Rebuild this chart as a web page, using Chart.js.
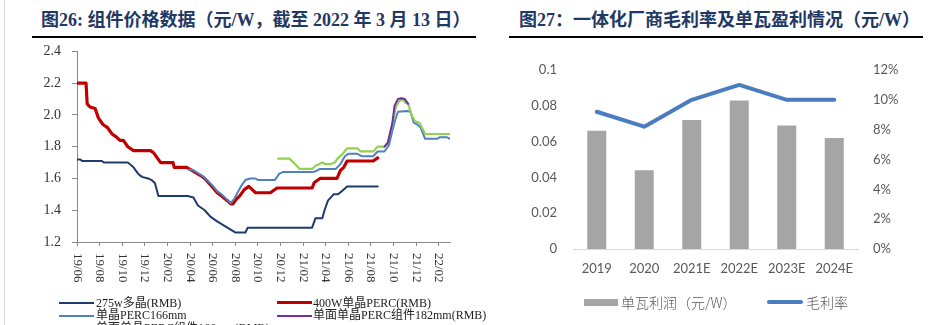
<!DOCTYPE html>
<html>
<head>
<meta charset="utf-8">
<script src="https://cdn.jsdelivr.net/npm/chart.js@4/dist/chart.umd.min.js"></script>
<style>
  html, body { margin: 0; padding: 0; background: #fff; }
  #wrap { position: relative; width: 933px; height: 325px; overflow: hidden; background: #fff; }
  .edge { position: absolute; left: 4px; top: 0; width: 1px; height: 325px; background: #d4d4d4; }
  .title { position: absolute; top: 9px; white-space: nowrap; font-weight: bold; color: #1F3864;
           font-family: "Liberation Serif", "Noto Sans CJK SC", serif; font-size: 18px; line-height: 22px; }
  .rule { position: absolute; top: 36px; height: 2px; background: #000; }
  canvas { position: absolute; }
  .lg { position: absolute; white-space: nowrap; font-family: "Liberation Serif", "Noto Sans CJK SC", serif;
        font-size: 12px; color: #222; line-height: 14px; }
  .sw { position: absolute; }
  .rlg { position: absolute; white-space: nowrap; font-family: "Noto Sans CJK SC", sans-serif; font-weight: 300;
         font-size: 14px; color: #595959; line-height: 18px; }
</style>
</head>
<body>
<div id="wrap">
  <div class="edge"></div>
  <div class="title" style="left:41px;">图26: 组件价格数据（元/W，截至 2022 年 3 月 13 日）</div>
  <div class="rule" style="left:32px; width:444px;"></div>
  <div class="title" style="left:519px;">图27：一体化厂商毛利率及单瓦盈利情况（元/W）</div>
  <div class="rule" style="left:509px; width:414px;"></div>

  <canvas id="priceChart" width="470" height="270" style="left:0; top:32px;"></canvas>
  <canvas id="marginChart" width="453" height="250" style="left:480px; top:40px;"></canvas>

  <!-- legend, module prices -->
  <div class="sw" style="left:59px; top:302px; width:35px; height:2px; background:#1F3A6E;"></div>
  <div class="lg" style="left:96px; top:296px;">275w多晶(RMB)</div>
  <div class="sw" style="left:277px; top:301px; width:35px; height:3px; background:#C00000;"></div>
  <div class="lg" style="left:313px; top:296px;">400W单晶PERC(RMB)</div>
  <div class="sw" style="left:59px; top:315px; width:35px; height:2px; background:#4F81BD;"></div>
  <div class="lg" style="left:96px; top:308px;">单晶PERC166mm</div>
  <div class="sw" style="left:277px; top:315px; width:35px; height:2px; background:#7030A0;"></div>
  <div class="lg" style="left:313px; top:308px;">单面单晶PERC组件182mm(RMB)</div>
  <div class="sw" style="left:59px; top:329px; width:35px; height:2px; background:#92D050;"></div>
  <div class="lg" style="left:96px; top:321px;">单面单晶PERC组件166mm(RMB)</div>

  <!-- legend, margin chart -->
  <div class="sw" style="left:584px; top:299px; width:34px; height:7px; background:#A5A5A5;"></div>
  <div class="rlg" style="left:621px; top:293px;">单瓦利润（元/W）</div>
  <div class="sw" style="left:767px; top:300px; width:36px; height:4px; border-radius:2px; background:#4A7CC0;"></div>
  <div class="rlg" style="left:806px; top:293px;">毛利率</div>
</div>

<script>
// ---- Module price data (x = months since 2019/06, y = 元/W) ----
const xTickLabels = ['19/06','19/08','19/10','19/12','20/02','20/04','20/06','20/08','20/10',
                     '20/12','21/02','21/04','21/06','21/08','21/10','21/12','22/02'];

const polyX = [0, 0.3, 0.45, 2.2, 2.4, 4.5, 5.0, 5.4, 5.75, 6.3, 6.6, 6.9, 7.2, 9.8, 10.3, 10.7, 11.3,
               11.8, 12.4, 13.3, 14.0, 14.9, 15.1, 20.8, 21.1, 21.7, 21.9, 22.2, 22.7, 23.1, 23.5, 23.9, 26.6];
const polyY = [1.72, 1.72, 1.71, 1.71, 1.70, 1.70, 1.67, 1.63, 1.61, 1.60, 1.59, 1.57, 1.49, 1.49, 1.48, 1.43, 1.40,
               1.36, 1.33, 1.29, 1.26, 1.26, 1.29, 1.29, 1.35, 1.35, 1.40, 1.46, 1.50, 1.50, 1.525, 1.55, 1.55];

const perc400X = [0, 0.8, 0.9, 1.15, 1.6, 1.9, 2.3, 2.7, 3.1, 3.5, 3.8, 4.1, 4.5, 5.0, 6.5, 6.8, 7.4, 8.5, 8.6,
                  9.7, 10.2, 10.9, 11.3, 12.0, 12.4, 12.8, 13.3, 13.6, 13.8, 14.1, 14.4, 14.8, 15.2, 15.5, 15.8,
                  17.1, 17.7, 20.8, 21.0, 21.5, 23.0, 23.3, 23.6, 23.9, 26.2, 26.6];
const perc400Y = [2.20, 2.20, 2.07, 2.05, 2.04, 1.98, 1.94, 1.92, 1.88, 1.86, 1.84, 1.84, 1.80, 1.775, 1.775, 1.76,
                  1.70, 1.70, 1.67, 1.67, 1.65, 1.62, 1.60, 1.545, 1.51, 1.49, 1.46, 1.44, 1.44, 1.47, 1.49, 1.53,
                  1.55, 1.53, 1.51, 1.51, 1.54, 1.54, 1.575, 1.60, 1.60, 1.65, 1.67, 1.71, 1.71, 1.73];

const perc166X = [9.9, 10.2, 10.9, 11.3, 12.0, 12.4, 12.8, 13.3, 13.6, 13.9, 14.2, 14.5, 14.9, 15.3, 15.8, 16.0,
                  17.5, 17.9, 18.2, 20.8, 21.1, 21.5, 22.9, 23.3, 23.7, 24.0, 24.8, 25.2, 26.2, 26.6, 27.2,
                  27.6, 27.9, 28.2, 28.4, 29.2, 29.5, 29.8, 30.1, 30.4, 30.8, 31.9, 32.1, 32.7, 33.0];
const perc166Y = [1.655, 1.655, 1.625, 1.605, 1.555, 1.52, 1.50, 1.465, 1.445, 1.47, 1.51, 1.55, 1.59, 1.60, 1.60, 1.59,
                  1.59, 1.63, 1.64, 1.64, 1.645, 1.66, 1.66, 1.69, 1.74, 1.755, 1.755, 1.74, 1.74, 1.77, 1.77,
                  1.81, 1.90, 1.98, 2.02, 2.025, 2.02, 1.95, 1.94, 1.92, 1.85, 1.85, 1.86, 1.86, 1.85];

const mono182X = [27.2, 27.5, 27.9, 28.1, 28.4, 28.7, 29.0, 29.3];
const mono182Y = [1.80, 1.825, 1.95, 2.06, 2.10, 2.105, 2.10, 2.07];

const mono166X = [17.8, 18.8, 19.3, 19.7, 20.8, 21.1, 21.4, 21.7, 22.0, 22.4, 22.8, 23.1, 23.5, 23.9, 24.8, 25.1,
                  26.2, 26.6, 27.2, 27.5, 27.9, 28.2, 28.5, 28.8, 29.0, 29.3, 29.6, 29.9, 30.3, 30.8, 33.0];
const mono166Y = [1.725, 1.725, 1.69, 1.66, 1.66, 1.68, 1.69, 1.70, 1.69, 1.69, 1.70, 1.73, 1.755, 1.79, 1.79, 1.77,
                  1.77, 1.80, 1.80, 1.825, 1.94, 2.05, 2.085, 2.10, 2.08, 2.07, 2.00, 1.96, 1.95, 1.88, 1.88];

// ---- Margin chart data ----
const years = ['2019', '2020', '2021E', '2022E', '2023E', '2024E'];
const profitPerWatt = [0.066, 0.044, 0.072, 0.083, 0.069, 0.062];
const grossMargin = [9.2, 8.2, 10.0, 11.0, 10.0, 10.0];

const pts = (xs, ys) => xs.map((x, i) => ({ x: x, y: ys[i] }));
const lineSet = (label, xs, ys, color, width) => ({
  label: label, data: pts(xs, ys), borderColor: color, backgroundColor: color,
  borderWidth: width, pointRadius: 0, tension: 0, fill: false,
  borderJoinStyle: 'round', borderCapStyle: 'round'
});

// month-axis labels, drawn reading top-to-bottom under each tick
const verticalMonthLabels = {
  id: 'verticalMonthLabels',
  afterDraw(chart) {
    const sc = chart.scales.x;
    const ctx = chart.ctx;
    ctx.save();
    ctx.font = '13px "Liberation Serif", serif';
    ctx.fillStyle = '#333';
    ctx.textAlign = 'left';
    ctx.textBaseline = 'middle';
    sc.ticks.forEach((t, i) => {
      const px = sc.getPixelForValue(t.value);
      ctx.save();
      ctx.translate(px, sc.top + 11);
      ctx.rotate(Math.PI / 2);
      ctx.fillText(xTickLabels[i] || '', 0, 0);
      ctx.restore();
    });
    ctx.restore();
  }
};

new Chart(document.getElementById('priceChart'), {
  type: 'line',
  data: {
    datasets: [
      lineSet('275w多晶(RMB)', polyX, polyY, '#1F3A6E', 2),
      lineSet('单面单晶PERC组件182mm(RMB)', mono182X, mono182Y, '#7030A0', 2),
      lineSet('单面单晶PERC组件166mm(RMB)', mono166X, mono166Y, '#92D050', 2.2),
      lineSet('单晶PERC166mm', perc166X, perc166Y, '#4F81BD', 2),
      lineSet('400W单晶PERC(RMB)', perc400X, perc400Y, '#C00000', 3.2)
    ]
  },
  options: {
    responsive: false,
    animation: false,
    events: [],
    layout: { padding: { top: 2, right: 20, left: 0, bottom: 0 } },
    plugins: { legend: { display: false }, tooltip: { enabled: false } },
    scales: {
      x: {
        type: 'linear', min: 0, max: 33.0,
        afterFit: s => { s.height = 60; },
        afterBuildTicks: s => { s.ticks = xTickLabels.map((_, i) => ({ value: i * 2 })); },
        ticks: { display: false },
        grid: { display: true, drawOnChartArea: false, drawTicks: true, tickLength: 4, color: '#888' },
        border: { display: true, color: '#888', width: 1 }
      },
      y: {
        min: 1.2, max: 2.4,
        afterFit: s => { s.width = 77; },
        ticks: { stepSize: 0.2, padding: 11, color: '#333',
                 font: { family: '"Liberation Serif", serif', size: 14 },
                 callback: v => Number(v).toFixed(1) },
        grid: { display: true, drawOnChartArea: false, drawTicks: true, tickLength: 5, color: '#888' },
        border: { display: true, color: '#888', width: 1 }
      }
    }
  },
  plugins: [verticalMonthLabels]
});

new Chart(document.getElementById('marginChart'), {
  type: 'bar',
  data: {
    labels: years,
    datasets: [
      { type: 'line', label: '毛利率', data: grossMargin, yAxisID: 'y1', order: 0,
        borderColor: '#4A7CC0', backgroundColor: '#4A7CC0', borderWidth: 4, pointRadius: 0,
        tension: 0, borderJoinStyle: 'round', borderCapStyle: 'round' },
      { type: 'bar', label: '单瓦利润（元/W）', data: profitPerWatt, yAxisID: 'y', order: 1,
        backgroundColor: '#A5A5A5', categoryPercentage: 1, barPercentage: 0.4 }
    ]
  },
  options: {
    responsive: false,
    animation: false,
    events: [],
    layout: { padding: { top: 30, right: 25, left: 0, bottom: 0 } },
    plugins: { legend: { display: false }, tooltip: { enabled: false } },
    scales: {
      x: {
        afterFit: s => { s.height = 41; },
        ticks: { padding: 12, color: '#595959', font: { family: 'Lato, sans-serif', size: 13 } },
        grid: { display: false, drawTicks: false },
        border: { display: true, color: '#D9D9D9', width: 1 }
      },
      y: {
        position: 'left', min: 0, max: 0.1,
        afterFit: s => { s.width = 93; },
        ticks: { stepSize: 0.02, padding: 16, color: '#595959', font: { family: 'Lato, sans-serif', size: 13 },
                 callback: v => String(Math.round(v * 100) / 100) },
        grid: { display: false, drawTicks: false },
        border: { display: false }
      },
      y1: {
        position: 'right', min: 0, max: 12,
        afterFit: s => { s.width = 50; },
        ticks: { stepSize: 2, padding: 15, color: '#595959', font: { family: 'Lato, sans-serif', size: 13 },
                 callback: v => Math.round(v) + '%' },
        grid: { display: false, drawTicks: false },
        border: { display: false }
      }
    }
  }
});
</script>
</body>
</html>
